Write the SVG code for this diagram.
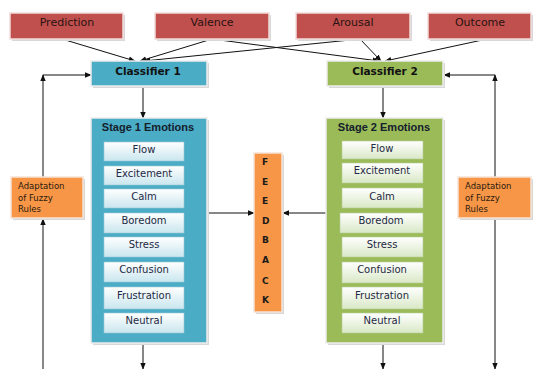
<svg xmlns="http://www.w3.org/2000/svg" width="533" height="369" viewBox="0 0 533 369">
<defs>
<linearGradient id="gb" x1="0" y1="0" x2="0" y2="1"><stop offset="0" stop-color="#FFFFFF"/><stop offset="1" stop-color="#C9E6EE"/></linearGradient>
<linearGradient id="gg" x1="0" y1="0" x2="0" y2="1"><stop offset="0" stop-color="#FFFFFF"/><stop offset="1" stop-color="#D9E8C6"/></linearGradient>
<marker id="ah" viewBox="0 0 10 10" refX="9" refY="5" markerWidth="7" markerHeight="7" markerUnits="userSpaceOnUse" orient="auto"><path d="M0,1 L10,5 L0,9 Z" fill="#111"/></marker>
</defs>
<style>
.sh{fill:#D8D8D8}
.red{fill:#C0504D;stroke:#F2DCDB;stroke-width:1.5}
.blue{fill:#4BACC6;stroke:#EDEDED;stroke-width:1.5}
.green{fill:#9BBB59;stroke:#EDEDED;stroke-width:1.5}
.org{fill:#F79646;stroke:#F6E3D6;stroke-width:1.5}
.ib{fill:url(#gb);stroke:#9CC9D6;stroke-width:0.6}
.ig{fill:url(#gg);stroke:#B5CC97;stroke-width:0.6}
.t{font-family:"DejaVu Sans",sans-serif;font-size:11px;fill:#2a1212;text-anchor:middle}
.cb{font-family:"DejaVu Sans",sans-serif;font-size:10.5px;font-weight:bold;fill:#111;text-anchor:middle}
.st{font-family:"Liberation Sans",sans-serif;font-size:11px;font-weight:bold;fill:#14202c;text-anchor:middle}
.it{font-family:"DejaVu Sans",sans-serif;font-size:10px;fill:#1f2a44;text-anchor:middle}
.ad{font-family:"DejaVu Sans",sans-serif;font-size:8.5px;fill:#2a1a10}
.fb{font-family:"DejaVu Sans",sans-serif;font-size:9px;font-weight:bold;fill:#1a1a1a}
.ln{fill:none;stroke:#111;stroke-width:1;marker-end:url(#ah)}
</style>

<g id="connectors">
<line class="ln" x1="62" y1="39" x2="135" y2="61"/>
<line class="ln" x1="212" y1="39" x2="140" y2="61"/>
<line class="ln" x1="212" y1="39" x2="379" y2="61"/>
<line class="ln" x1="360" y1="39" x2="144" y2="61"/>
<line class="ln" x1="360" y1="39" x2="381" y2="61"/>
<line class="ln" x1="487" y1="39" x2="385" y2="61"/>
<line class="ln" x1="143" y1="87" x2="143" y2="118"/>
<line class="ln" x1="383" y1="87" x2="383" y2="118"/>
<line class="ln" x1="208" y1="213" x2="254" y2="213"/>
<line class="ln" x1="326" y1="213" x2="283" y2="213"/>
<line class="ln" x1="143" y1="344" x2="143" y2="369"/>
<line class="ln" x1="383" y1="344" x2="383" y2="369"/>
<line class="ln" x1="43" y1="369" x2="43" y2="219"/>
<line class="ln" x1="43" y1="177" x2="43" y2="75"/>
<line class="ln" x1="43" y1="75" x2="91" y2="75"/>
<line class="ln" x1="495" y1="177" x2="495" y2="75"/>
<line class="ln" x1="495" y1="75" x2="444" y2="75"/>
<line class="ln" x1="495" y1="218" x2="495" y2="369"/>
</g>

<g id="prediction"><rect class="sh" x="12" y="15" width="113" height="26"/><rect class="red" x="10" y="13" width="113" height="26"/><text class="t" x="67" y="26">Prediction</text></g>
<g id="valence"><rect class="sh" x="157" y="15" width="114" height="26"/><rect class="red" x="155" y="13" width="114" height="26"/><text class="t" x="212" y="26">Valence</text></g>
<g id="arousal"><rect class="sh" x="298" y="15" width="114" height="26"/><rect class="red" x="296" y="13" width="114" height="26"/><text class="t" x="353" y="26">Arousal</text></g>
<g id="outcome"><rect class="sh" x="430" y="15" width="103" height="26"/><rect class="red" x="428" y="13" width="103" height="26"/><text class="t" x="480" y="26">Outcome</text></g>

<g id="classifier1"><rect class="sh" x="93" y="63" width="116" height="25"/><rect class="blue" x="91" y="61" width="116" height="25"/><text class="cb" x="148" y="75">Classifier 1</text></g>
<g id="classifier2"><rect class="sh" x="329" y="63" width="116" height="25"/><rect class="green" x="327" y="61" width="116" height="25"/><text class="cb" x="385" y="75">Classifier 2</text></g>

<g id="stage1">
<rect class="sh" x="93" y="120" width="116" height="225"/>
<rect class="blue" x="91" y="118" width="116" height="225"/>
<text class="st" x="148" y="131">Stage 1 Emotions</text>
<rect class="ib" x="104" y="142" width="80" height="19"/><text class="it" x="144" y="153">Flow</text>
<rect class="ib" x="104" y="166" width="80" height="19"/><text class="it" x="144" y="177">Excitement</text>
<rect class="ib" x="104" y="189" width="80" height="19"/><text class="it" x="144" y="200">Calm</text>
<rect class="ib" x="104" y="213" width="80" height="20"/><text class="it" x="144" y="224">Boredom</text>
<rect class="ib" x="104" y="237" width="80" height="20"/><text class="it" x="144" y="248">Stress</text>
<rect class="ib" x="104" y="262" width="80" height="20"/><text class="it" x="144" y="273">Confusion</text>
<rect class="ib" x="104" y="287" width="80" height="22"/><text class="it" x="144" y="299">Frustration</text>
<rect class="ib" x="104" y="313" width="80" height="20"/><text class="it" x="144" y="324">Neutral</text>
</g>

<g id="stage2">
<rect class="sh" x="328" y="120" width="117" height="225"/>
<rect class="green" x="326" y="118" width="117" height="225"/>
<text class="st" x="384" y="131">Stage 2 Emotions</text>
<rect class="ig" x="342" y="141" width="81" height="18"/><text class="it" x="382" y="152">Flow</text>
<rect class="ig" x="342" y="163" width="81" height="20"/><text class="it" x="382" y="174">Excitement</text>
<rect class="ig" x="342" y="188" width="81" height="20"/><text class="it" x="382" y="200">Calm</text>
<rect class="ig" x="340" y="213" width="83" height="20"/><text class="it" x="381" y="224">Boredom</text>
<rect class="ig" x="342" y="237" width="81" height="20"/><text class="it" x="382" y="248">Stress</text>
<rect class="ig" x="342" y="262" width="81" height="21"/><text class="it" x="382" y="273">Confusion</text>
<rect class="ig" x="342" y="287" width="81" height="22"/><text class="it" x="382" y="299">Frustration</text>
<rect class="ig" x="342" y="313" width="81" height="20"/><text class="it" x="382" y="324">Neutral</text>
</g>

<g id="feedback">
<rect class="sh" x="256" y="155" width="28" height="159"/>
<rect class="org" x="254" y="153" width="28" height="159"/>
<text class="fb" x="262" y="165">F</text>
<text class="fb" x="262" y="185">E</text>
<text class="fb" x="262" y="204">E</text>
<text class="fb" x="262" y="224">D</text>
<text class="fb" x="262" y="243">B</text>
<text class="fb" x="262" y="263">A</text>
<text class="fb" x="262" y="284">C</text>
<text class="fb" x="262" y="303">K</text>
</g>

<g id="adaptation1">
<rect class="sh" x="13" y="179" width="72" height="41"/>
<rect class="org" x="11" y="177" width="72" height="41"/>
<text class="ad" x="18" y="189">Adaptation</text>
<text class="ad" x="18" y="201">of Fuzzy</text>
<text class="ad" x="18" y="212">Rules</text>
</g>
<g id="adaptation2">
<rect class="sh" x="460" y="179" width="73" height="41"/>
<rect class="org" x="458" y="177" width="73" height="41"/>
<text class="ad" x="465" y="189">Adaptation</text>
<text class="ad" x="465" y="201">of Fuzzy</text>
<text class="ad" x="465" y="212">Rules</text>
</g>
</svg>
